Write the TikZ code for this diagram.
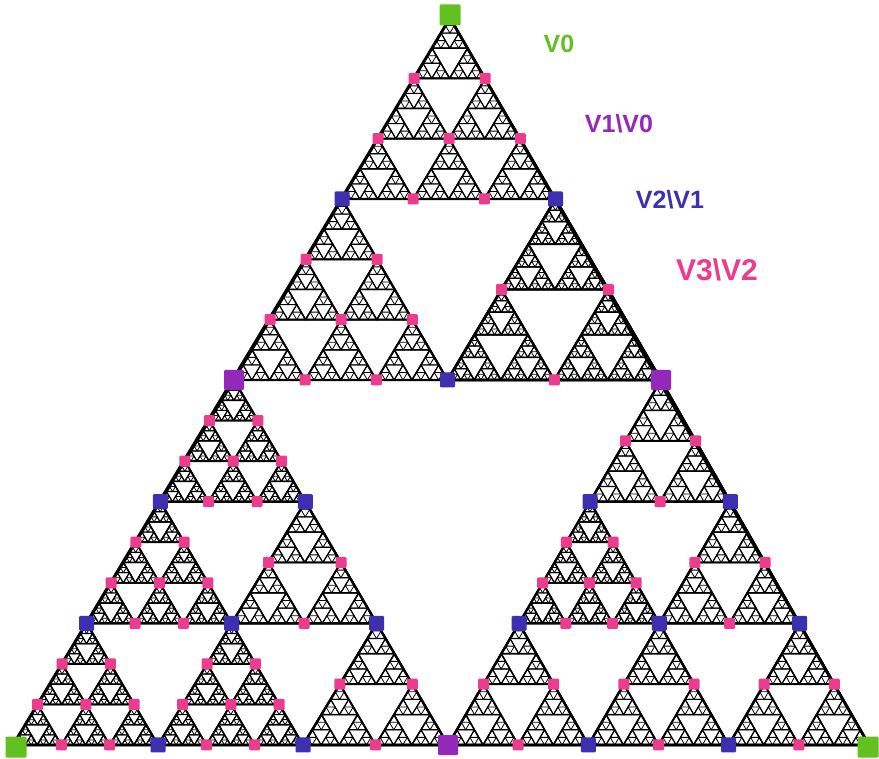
\documentclass[tikz,border=0pt]{standalone}
\usepackage{fontspec}
\setmainfont{Liberation Sans}
\definecolor{vgreen}{RGB}{98,192,32}
\definecolor{vpurple}{RGB}{148,40,186}
\definecolor{vblue}{RGB}{62,46,176}
\definecolor{vpink}{RGB}{236,60,140}
\pgfdeclarelayer{marks}
\pgfsetlayers{main,marks}
\tikzset{lbl/.style={font=\bfseries\fontsize{25}{25}\selectfont,inner sep=0pt}}
% recursive Sierpinski gasket: depth, A, B, C
\newcommand\sierp[7]{%
  \pgfmathsetmacro\sW{0.8+0.35*#1}%
  \draw[line width=\sW pt,line join=round] (#2,#3) -- (#4,#5) -- (#6,#7) -- cycle;
  \ifnum#1>0\relax
    \begingroup
    \pgfmathsetmacro\sAx{(#2+#4)/2}\pgfmathsetmacro\sAy{(#3+#5)/2}%
    \pgfmathsetmacro\sBx{(#2+#6)/2}\pgfmathsetmacro\sBy{(#3+#7)/2}%
    \pgfmathsetmacro\sCx{(#4+#6)/2}\pgfmathsetmacro\sCy{(#5+#7)/2}%
    \pgfmathtruncatemacro\sD{#1-1}%
    \edef\sNext{%
      \noexpand\sierp{\sD}{#2}{#3}{\sAx}{\sAy}{\sBx}{\sBy}%
      \noexpand\sierp{\sD}{\sAx}{\sAy}{#4}{#5}{\sCx}{\sCy}%
      \noexpand\sierp{\sD}{\sBx}{\sBy}{\sCx}{\sCy}{#6}{#7}}%
    \sNext
    \endgroup
  \fi}
% grid points of a triangle cut in thirds
\newcommand\setP[2]{%
  \pgfmathsetmacro\tmpx{\gAx+#1/3*(\gBx-\gAx)+#2/3*(\gCx-\gAx)}%
  \pgfmathsetmacro\tmpy{\gAy+#1/3*(\gBy-\gAy)+#2/3*(\gCy-\gAy)}%
  \expandafter\let\csname P#1#2x\endcsname\tmpx
  \expandafter\let\csname P#1#2y\endcsname\tmpy}
\newcommand\allP[6]{\def\gAx{#1}\def\gAy{#2}\def\gBx{#3}\def\gBy{#4}\def\gCx{#5}\def\gCy{#6}%
  \setP00\setP10\setP01\setP20\setP11\setP02\setP30\setP21\setP12\setP03}
\def\PX#1#2{\csname P#1#2x\endcsname}
\def\PY#1#2{\csname P#1#2y\endcsname}
% marker square
\newcommand\mk[4]{\begin{pgfonlayer}{marks}\fill[#1,rounded corners=1.2pt] ({#3},{#4}) ++({-#2/2},{-#2/2}) rectangle ++(#2,#2);\end{pgfonlayer}}
\newcommand\midmarks[8]{%
  \mk{#1}{#2}{(#3+#5)/2}{(#4+#6)/2}%
  \mk{#1}{#2}{(#3+#7)/2}{(#4+#8)/2}%
  \mk{#1}{#2}{(#5+#7)/2}{(#6+#8)/2}}
\newcommand\gridmarks[8]{%
  \begingroup
  \allP{#3}{#4}{#5}{#6}{#7}{#8}%
  \edef\gNext{%
    \noexpand\mk{#1}{#2}{\PX10}{\PY10}%
    \noexpand\mk{#1}{#2}{\PX01}{\PY01}%
    \noexpand\mk{#1}{#2}{\PX20}{\PY20}%
    \noexpand\mk{#1}{#2}{\PX11}{\PY11}%
    \noexpand\mk{#1}{#2}{\PX02}{\PY02}%
    \noexpand\mk{#1}{#2}{\PX21}{\PY21}%
    \noexpand\mk{#1}{#2}{\PX12}{\PY12}}%
  \gNext
  \endgroup}
\newcommand\gridleaf[7]{%
  \begingroup
  \allP{#2}{#3}{#4}{#5}{#6}{#7}%
  \edef\gNext{%
    \noexpand\sierp{#1}{\PX00}{\PY00}{\PX10}{\PY10}{\PX01}{\PY01}%
    \noexpand\sierp{#1}{\PX10}{\PY10}{\PX20}{\PY20}{\PX11}{\PY11}%
    \noexpand\sierp{#1}{\PX01}{\PY01}{\PX11}{\PY11}{\PX02}{\PY02}%
    \noexpand\sierp{#1}{\PX20}{\PY20}{\PX30}{\PY30}{\PX21}{\PY21}%
    \noexpand\sierp{#1}{\PX11}{\PY11}{\PX21}{\PY21}{\PX12}{\PY12}%
    \noexpand\sierp{#1}{\PX02}{\PY02}{\PX12}{\PY12}{\PX03}{\PY03}}%
  \gNext
  \endgroup}
\newcommand\docell[7]{%
  \draw[line width=2.2pt,line join=round] (#2,#3) -- (#4,#5) -- (#6,#7) -- cycle;
  \ifnum#1=3\relax
    \gridleaf{3}{#2}{#3}{#4}{#5}{#6}{#7}%
    \gridmarks{vpink}{11}{#2}{#3}{#4}{#5}{#6}{#7}%
  \else
    \sierp{#1}{#2}{#3}{#4}{#5}{#6}{#7}%
    \midmarks{vpink}{11}{#2}{#3}{#4}{#5}{#6}{#7}%
  \fi}
\begin{document}
\begin{tikzpicture}[x=1pt,y=-1pt]
\useasboundingbox (0,0) rectangle (879,759);
% outer triangle
\draw[line width=2.8pt,line join=round] (450,18) -- (13,745) -- (869,745) -- cycle;
% top part: A(450,18) L(234,380) R(661,380)
\docell{3}{450}{18}{342}{199}{555.5}{199}
\docell{3}{342}{199}{234}{380}{447.5}{380}
\docell{5}{555.5}{199}{447.5}{380}{661}{380}
\mk{vblue}{15}{342}{199}
\mk{vblue}{15}{555.5}{199}
\mk{vblue}{15}{447.5}{380}
% left part: L(234,380) B(13,745) M(448,745)
\begingroup
\allP{234}{380}{13}{745}{448}{745}%
\edef\gNext{%
 \noexpand\docell{3}{\PX00}{\PY00}{\PX10}{\PY10}{\PX01}{\PY01}%
 \noexpand\docell{3}{\PX10}{\PY10}{\PX20}{\PY20}{\PX11}{\PY11}%
 \noexpand\docell{4}{\PX01}{\PY01}{\PX11}{\PY11}{\PX02}{\PY02}%
 \noexpand\docell{3}{\PX20}{\PY20}{\PX30}{\PY30}{\PX21}{\PY21}%
 \noexpand\docell{3}{\PX11}{\PY11}{\PX21}{\PY21}{\PX12}{\PY12}%
 \noexpand\docell{4}{\PX02}{\PY02}{\PX12}{\PY12}{\PX03}{\PY03}}%
\gNext
\endgroup
\gridmarks{vblue}{15}{234}{380}{13}{745}{448}{745}
% right part: R(661,380) M(448,745) C(869,745)
\begingroup
\allP{661}{380}{448}{745}{869}{745}%
\edef\gNext{%
 \noexpand\docell{4}{\PX00}{\PY00}{\PX10}{\PY10}{\PX01}{\PY01}%
 \noexpand\docell{3}{\PX10}{\PY10}{\PX20}{\PY20}{\PX11}{\PY11}%
 \noexpand\docell{4}{\PX01}{\PY01}{\PX11}{\PY11}{\PX02}{\PY02}%
 \noexpand\docell{4}{\PX20}{\PY20}{\PX30}{\PY30}{\PX21}{\PY21}%
 \noexpand\docell{4}{\PX11}{\PY11}{\PX21}{\PY21}{\PX12}{\PY12}%
 \noexpand\docell{4}{\PX02}{\PY02}{\PX12}{\PY12}{\PX03}{\PY03}}%
\gNext
\endgroup
\gridmarks{vblue}{15}{661}{380}{448}{745}{869}{745}
% V1 \ V0
\mk{vpurple}{20}{234}{380}
\mk{vpurple}{20}{661}{380}
\mk{vpurple}{20}{448}{745}
% V0
\mk{vgreen}{21}{450}{15}
\mk{vgreen}{21}{16}{747}
\mk{vgreen}{21}{868}{747}
% labels
\node[lbl,text=vgreen] (l0) at (559,44) {V0};
\node[lbl,text=vpurple] (l1) at (619,124) {V1\textbackslash V0};
\node[lbl,text=vblue] (l2) at (670,200) {V2\textbackslash V1};
\node[lbl,text=vpink,font=\bfseries\fontsize{30}{30}\selectfont] (l3) at (717,270) {V3\textbackslash V2};
\end{tikzpicture}
\end{document}
